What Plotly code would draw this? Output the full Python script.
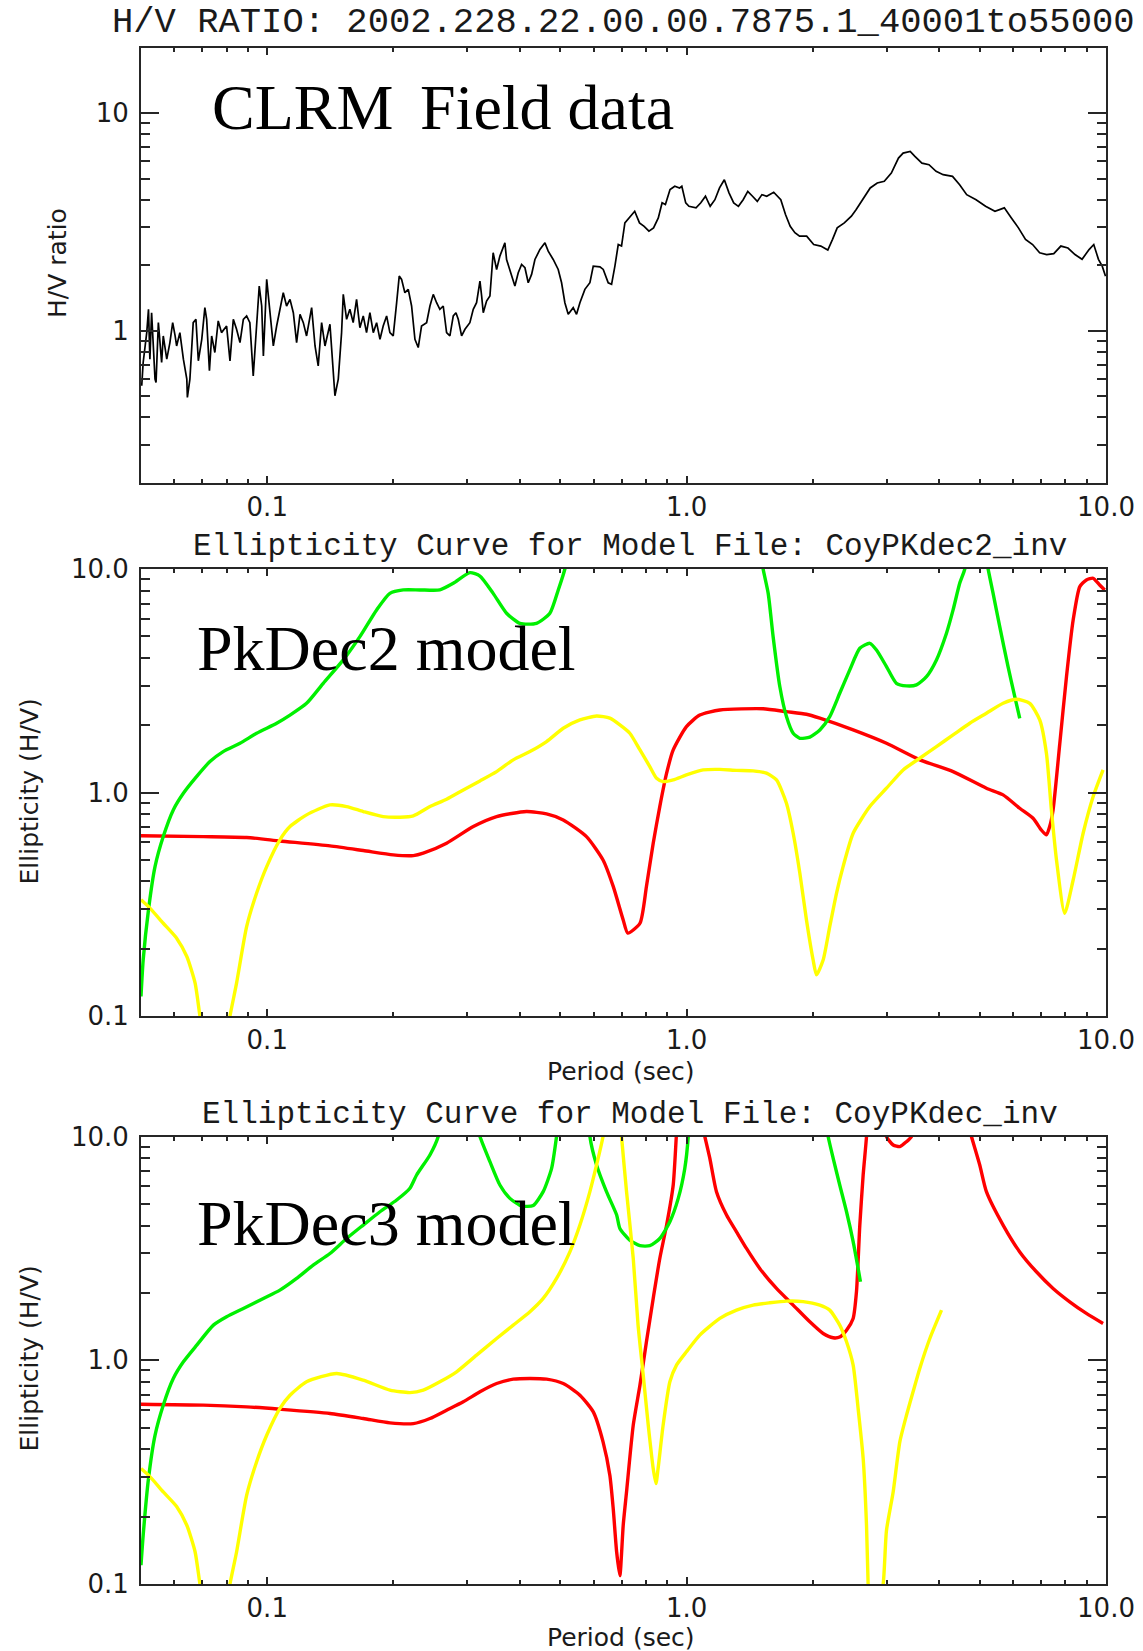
import math
import plotly.graph_objects as go

W, H = 1143, 1651

# ---------------- data ----------------
# Panel 1: field H/V ratio (period in s)
hv_period = [
    0.0502, 0.0506, 0.0516, 0.0521, 0.0525, 0.0530, 0.0540, 0.0543, 0.0550, 0.0560,
    0.0565, 0.0576, 0.0586, 0.0595, 0.0603, 0.0608, 0.0619, 0.0631, 0.0643, 0.0645,
    0.0654, 0.0666, 0.0676, 0.0685, 0.0698, 0.0710, 0.0717, 0.0728, 0.0737, 0.0750,
    0.0764, 0.0778, 0.0800, 0.0815, 0.0830, 0.0845, 0.0861, 0.0877, 0.0893, 0.0909,
    0.0926, 0.0943, 0.0957, 0.0970, 0.0979, 0.0997, 0.1015, 0.1034, 0.1053, 0.1092,
    0.1112, 0.1133, 0.1154, 0.1175, 0.1197, 0.1219, 0.1241, 0.1276, 0.1300, 0.1323,
    0.1348, 0.1373, 0.1411, 0.1437, 0.1450, 0.1477, 0.1504, 0.1518, 0.1546, 0.1574,
    0.1603, 0.1633, 0.1663, 0.1694, 0.1725, 0.1757, 0.1790, 0.1823, 0.1857, 0.1890,
    0.1926, 0.1961, 0.1997, 0.2035, 0.2064, 0.2091, 0.2129, 0.2169, 0.2209, 0.2250,
    0.2291, 0.2333, 0.2399, 0.2443, 0.2488, 0.2534, 0.2580, 0.2628, 0.2677, 0.2726,
    0.2777, 0.2818, 0.2854, 0.2907, 0.2961, 0.3042, 0.3099, 0.3156, 0.3215, 0.3245,
    0.3274, 0.3334, 0.3396, 0.3457, 0.3523, 0.3587, 0.3687, 0.3721, 0.3790, 0.3895,
    0.3967, 0.4041, 0.4116, 0.4191, 0.4269, 0.4348, 0.4469, 0.4594, 0.4677, 0.4807,
    0.4941, 0.5033, 0.5125, 0.5220, 0.5365, 0.5464, 0.5566, 0.5720, 0.5880, 0.5989,
    0.6213, 0.6327, 0.6502, 0.6623, 0.6745, 0.6870, 0.6995, 0.7125,
    0.752, 0.772, 0.792, 0.813, 0.834, 0.856, 0.874, 0.890, 0.913, 0.937,
    0.962, 0.974, 0.995, 1.013, 1.053, 1.081, 1.109, 1.138, 1.168, 1.198,
    1.230, 1.262, 1.295, 1.329, 1.364, 1.399, 1.436, 1.474, 1.512, 1.552,
    1.613, 1.677, 1.721, 1.766, 1.812, 1.859, 1.933, 2.009, 2.089, 2.171,
    2.228, 2.286, 2.377, 2.471, 2.535, 2.636, 2.740, 2.848, 2.960, 3.077,
    3.200, 3.283, 3.413, 3.502, 3.640, 3.784, 3.934, 4.090, 4.306, 4.477,
    4.654, 4.900, 5.162, 5.435, 5.722, 5.948, 6.183, 6.428, 6.683, 6.947,
    7.222, 7.508, 7.805, 8.114, 8.435, 8.768, 9.112, 9.350, 9.594, 9.795,
    9.975,
]
hv_ratio = [
    0.559, 0.715, 0.981, 1.255, 0.741, 1.211, 0.600, 0.579, 1.090, 0.715,
    0.947, 0.741, 0.883, 1.090, 0.947, 0.852, 0.981, 0.741, 0.600, 0.494,
    0.600, 1.090, 1.129, 0.728, 0.914, 1.277, 1.129, 0.655, 0.947, 0.795,
    1.110, 0.981, 1.052, 0.728, 1.129, 1.016, 0.883, 1.129, 1.170, 1.090,
    0.621, 1.052, 1.605, 1.300, 0.767, 1.722, 1.233, 0.852, 1.052, 1.496,
    1.300, 1.394, 1.211, 0.883, 1.190, 1.090, 0.947, 1.277, 0.852, 0.690,
    1.090, 0.852, 1.071, 0.600, 0.503, 0.600, 0.981, 1.470, 1.129, 1.255,
    1.090, 1.394, 1.034, 1.170, 0.981, 1.211, 0.981, 1.090, 0.914, 1.052,
    1.170, 0.981, 0.947, 1.346, 1.784, 1.722, 1.496, 1.550, 1.300, 0.914,
    0.838, 1.052, 1.090, 1.300, 1.470, 1.346, 1.255, 1.300, 0.981, 0.947,
    1.170, 1.211, 1.129, 0.947, 1.016, 1.090, 1.255, 1.346, 1.692, 1.445,
    1.211, 1.370, 1.445, 2.282, 1.913, 2.203, 2.535, 2.126, 1.913, 1.605,
    1.847, 2.017, 1.948, 1.662, 1.815, 2.126, 2.363, 2.535, 2.322, 2.126,
    1.913, 1.662, 1.346, 1.190, 1.277, 1.190, 1.346, 1.550, 1.662, 1.982,
    1.968, 1.913, 1.662, 1.634, 1.982, 2.49, 2.45, 3.13,
    3.54, 3.13, 3.02, 2.87, 2.97, 3.30, 3.87, 3.80, 4.45, 4.61,
    4.53, 4.61, 3.87, 3.73, 3.67, 3.87, 4.15, 3.73, 4.00, 4.53,
    4.94, 4.30, 3.87, 3.73, 4.00, 4.37, 4.15, 3.93, 4.22, 4.15,
    4.33, 4.00, 3.42, 3.02, 2.82, 2.72, 2.72, 2.49, 2.45, 2.35,
    2.63, 2.97, 3.13, 3.36, 3.60, 4.07, 4.53, 4.77, 4.86, 5.30,
    6.21, 6.55, 6.67, 6.32, 5.89, 5.79, 5.40, 5.21, 5.12, 4.69,
    4.22, 4.00, 3.73, 3.54, 3.67, 3.30, 2.97, 2.63, 2.49, 2.28,
    2.24, 2.26, 2.45, 2.40, 2.24, 2.13, 2.36, 2.49, 2.13, 1.98,
    1.78,
]

# Panel 2: PkDec2 model ellipticity (segments of each curve)
pk2_red_period = [[0.050, 0.0704, 0.0893, 0.1072, 0.1411, 0.1694, 0.1997, 0.2230, 0.2355, 0.2677,
                   0.310, 0.3523, 0.415, 0.4635, 0.5079, 0.577, 0.632, 0.6683, 0.706, 0.724,
                   0.774, 0.802, 0.8324, 0.863, 0.896, 0.929, 0.999, 1.075, 1.200, 1.522,
                   1.730, 1.931, 2.078, 2.495, 2.996, 3.597, 4.319, 5.186, 5.683, 6.228,
                   6.70, 7.01, 7.21, 7.34, 7.478, 7.76, 8.05, 8.35, 8.66, 8.979,
                   9.32, 9.66, 9.93]]
pk2_red_ell = [[0.640, 0.635, 0.629, 0.607, 0.577, 0.550, 0.526, 0.522, 0.535, 0.593,
                0.704, 0.780, 0.822, 0.802, 0.754, 0.635, 0.499, 0.380, 0.269, 0.235,
                0.260, 0.380, 0.593, 0.865, 1.22, 1.55, 1.97, 2.22, 2.34, 2.37,
                2.30, 2.24, 2.15, 1.905, 1.66, 1.40, 1.24, 1.045, 0.976, 0.850,
                0.767, 0.680, 0.646, 0.704, 0.836, 1.66, 3.30, 5.91, 8.34, 8.93,
                9.09, 8.48, 8.06]]

pk2_yellow_period = [
    [0.0500, 0.0525, 0.0565, 0.0608, 0.0643, 0.0673, 0.0691, 0.0705],
    [0.0800, 0.0815, 0.0845, 0.0893, 0.0943, 0.0997, 0.1072, 0.1133, 0.1241, 0.1411,
     0.1546, 0.1694, 0.1890, 0.2072, 0.2230, 0.2443, 0.2677, 0.2934, 0.3215, 0.3523,
     0.3860, 0.4230, 0.4635, 0.5079, 0.5566, 0.6099, 0.656, 0.6932, 0.732, 0.774,
     0.817, 0.848, 0.879, 0.929, 0.999, 1.095, 1.200, 1.315, 1.441, 1.550,
     1.638, 1.730, 1.795, 1.862, 1.931, 2.003, 2.040, 2.116, 2.194, 2.277,
     2.361, 2.495, 2.734, 2.996, 3.283, 3.597, 3.942, 4.319, 4.733, 5.186,
     5.683, 6.115, 6.58, 6.95, 7.21, 7.41, 7.62, 7.97, 8.35, 8.82,
     9.32, 9.84],
]
pk2_yellow_ell = [
    [0.331, 0.304, 0.260, 0.223, 0.1846, 0.1403, 0.100, 0.08],
    [0.08, 0.1, 0.1403, 0.251, 0.354, 0.466, 0.614, 0.704, 0.794, 0.880,
     0.865, 0.822, 0.780, 0.775, 0.786, 0.865, 0.933, 1.027, 1.127, 1.240,
     1.40, 1.524, 1.690, 1.939, 2.112, 2.20, 2.15, 2.006, 1.841, 1.55,
     1.306, 1.158, 1.119, 1.138, 1.198, 1.262, 1.269, 1.256, 1.25, 1.22,
     1.138, 0.895, 0.657, 0.435, 0.269, 0.178, 0.1528, 0.178, 0.251, 0.354,
     0.466, 0.657, 0.865, 1.045, 1.262, 1.423, 1.605, 1.810, 2.041, 2.262,
     2.507, 2.613, 2.507, 2.112, 1.498, 0.836, 0.499, 0.288, 0.406, 0.657,
     0.959, 1.262],
]

pk2_green_period = [
    [0.0500, 0.0506, 0.0521, 0.0540, 0.0565, 0.0597, 0.0631, 0.0679, 0.0730, 0.0785,
     0.0861, 0.0943, 0.1053, 0.1133, 0.1241, 0.1360, 0.1518, 0.1663, 0.1823, 0.1961,
     0.2110, 0.2312, 0.2580, 0.2777, 0.3042, 0.3215, 0.3457, 0.3721, 0.4003, 0.4386,
     0.4720, 0.4942, 0.5125, 0.525],
    [1.49, 1.522, 1.565, 1.608, 1.668, 1.730, 1.795, 1.862, 1.967, 2.078,
     2.194, 2.318, 2.449, 2.588, 2.734, 2.836, 2.996, 3.164, 3.344, 3.532,
     3.732, 3.942, 4.165, 4.319, 4.479, 4.605, 4.68],
    [5.10, 5.234, 5.38, 5.58, 5.84, 6.06, 6.228],
]
pk2_green_ell = [
    [0.1223, 0.178, 0.299, 0.466, 0.635, 0.836, 0.992, 1.18, 1.375, 1.524,
     1.66, 1.841, 2.041, 2.22, 2.507, 3.08, 3.92, 4.98, 6.56, 7.78,
     8.06, 8.06, 8.06, 8.63, 9.63, 9.30, 7.78, 6.34, 5.71, 5.71,
     6.34, 8.06, 10.0, 13.0],
    [13.0, 10.0, 7.78, 4.98, 2.98, 2.186, 1.841, 1.748, 1.77, 1.905,
     2.186, 2.78, 3.535, 4.42, 4.65, 4.34, 3.66, 3.08, 3.00, 3.03,
     3.30, 3.92, 5.16, 6.56, 8.63, 10.0, 13.0],
    [13.0, 10.0, 7.78, 5.52, 3.66, 2.685, 2.148],
]

# Panel 3: PkDec3 model ellipticity
pk3_red_period = [
    [0.0500, 0.0704, 0.0893, 0.1072, 0.1411, 0.1694, 0.1961, 0.2230, 0.2443, 0.2677,
     0.2934, 0.3215, 0.3523, 0.3860, 0.4230, 0.4635, 0.5079, 0.5566, 0.599, 0.632,
     0.656, 0.6683, 0.681, 0.693, 0.706, 0.719, 0.746, 0.774, 0.802, 0.8324,
     0.863, 0.896, 0.929, 0.945, 0.955],
    [1.06, 1.105, 1.136, 1.178, 1.245, 1.315, 1.389, 1.494, 1.638, 1.795,
     1.967, 2.116, 2.236, 2.318, 2.406, 2.495, 2.541, 2.588, 2.636, 2.685, 2.70],
    [2.98, 2.996, 3.108, 3.224, 3.344, 3.437, 3.46],
    [4.60, 4.777, 5.000, 5.186, 5.683, 6.228, 6.824, 7.478, 8.194, 8.979, 9.84],
]
pk3_red_ell = [
    [0.636, 0.630, 0.619, 0.604, 0.578, 0.549, 0.525, 0.521, 0.549, 0.598,
     0.652, 0.723, 0.787, 0.823, 0.829, 0.823, 0.787, 0.698, 0.588, 0.432,
     0.306, 0.217, 0.139, 0.109, 0.183, 0.258, 0.513, 0.774, 1.209, 1.889,
     2.85, 4.02, 6.07, 10.0, 13.0],
    [14.0, 10.0, 7.99, 5.67, 4.46, 3.75, 3.16, 2.573, 2.094, 1.764,
     1.485, 1.317, 1.26, 1.27, 1.363, 1.538, 2.023, 4.02, 6.73, 10.0, 13.0],
    [11.0, 10.0, 9.16, 9.01, 9.48, 10.0, 11.0],
    [13.0, 10.0, 7.46, 5.67, 4.02, 3.05, 2.486, 2.094, 1.825, 1.619, 1.460],
]

pk3_yellow_period = [
    [0.0500, 0.0525, 0.0565, 0.0608, 0.0643, 0.0673, 0.0691, 0.0705],
    [0.0800, 0.0815, 0.0845, 0.0893, 0.0943, 0.0997, 0.1072, 0.1133, 0.1241, 0.1464,
     0.1694, 0.1961, 0.2189, 0.2355, 0.2580, 0.2828, 0.3156, 0.3523, 0.3860, 0.4230,
     0.455, 0.4896, 0.5268, 0.5566, 0.588, 0.6099, 0.632, 0.645],
    [0.690, 0.6995, 0.719, 0.746, 0.766, 0.788, 0.810, 0.8324, 0.845, 0.855,
     0.879, 0.9121, 0.946, 0.999, 1.075, 1.200, 1.315, 1.441, 1.579, 1.730,
     1.896, 2.078, 2.194, 2.318, 2.406, 2.495, 2.564, 2.636, 2.685, 2.709, 2.73],
    [2.86, 2.942, 2.996, 3.108, 3.224, 3.344, 3.467, 3.597, 3.801, 4.053],
]
pk3_yellow_ell = [
    [0.328, 0.302, 0.258, 0.222, 0.183, 0.139, 0.100, 0.08],
    [0.08, 0.1, 0.139, 0.249, 0.351, 0.462, 0.609, 0.698, 0.801, 0.873,
     0.815, 0.735, 0.717, 0.735, 0.801, 0.888, 1.054, 1.251, 1.435, 1.647,
     1.889, 2.321, 3.05, 4.02, 5.67, 7.46, 10.0, 13.0],
    [14.0, 10.0, 5.67, 2.85, 1.435, 0.858, 0.513, 0.328, 0.281, 0.328,
     0.513, 0.801, 0.951, 1.091, 1.295, 1.538, 1.675, 1.764, 1.806, 1.838,
     1.829, 1.764, 1.675, 1.435, 1.209, 0.951, 0.609, 0.364, 0.183, 0.1, 0.08],
    [0.08, 0.1, 0.1735, 0.258, 0.432, 0.568, 0.723, 0.919, 1.251, 1.675],
]

pk3_green_period = [
    [0.0500, 0.0506, 0.0521, 0.0540, 0.0565, 0.0597, 0.0631, 0.0679, 0.0744, 0.0800,
     0.0877, 0.0979, 0.1072, 0.1175, 0.1287, 0.1411, 0.1546, 0.1694, 0.1857, 0.2035,
     0.2189, 0.2271, 0.2443, 0.2557, 0.262],
    [0.310, 0.3215, 0.3396, 0.3587, 0.3790, 0.4041, 0.4308, 0.455, 0.4765, 0.4896, 0.498],
    [0.585, 0.588, 0.6099, 0.644, 0.681, 0.6932, 0.732, 0.774, 0.817, 0.863,
     0.9121, 0.955, 0.990, 1.009, 1.015],
    [2.14, 2.175, 2.236, 2.318, 2.406, 2.495, 2.564, 2.597],
]
pk3_green_ell = [
    [0.1213, 0.165, 0.296, 0.462, 0.630, 0.829, 0.984, 1.168, 1.435, 1.564,
     1.704, 1.889, 2.058, 2.321, 2.663, 3.00, 3.50, 4.02, 4.61, 5.20,
     5.87, 6.73, 8.27, 10.0, 13.0],
    [13.0, 10.0, 7.72, 6.07, 5.29, 4.89, 4.92, 5.67, 7.20, 10.0, 13.0],
    [13.0, 10.0, 7.46, 5.67, 4.46, 3.88, 3.44, 3.25, 3.25, 3.50,
     4.16, 5.29, 7.20, 10.0, 13.0],
    [12.5, 10.0, 7.99, 6.07, 4.61, 3.39, 2.573, 2.243],
]

# Tick labels
x_tick_vals = [0.1, 1.0, 10.0]
x_tick_text = ["0.1", "1.0", "10.0"]
x_minor_vals = [0.06, 0.07, 0.08, 0.09, 0.2, 0.3, 0.4, 0.5, 0.6, 0.7, 0.8, 0.9,
                2, 3, 4, 5, 6, 7, 8, 9]
hv_tick_vals = [1, 10]
hv_tick_text = ["1", "10"]
hv_minor_vals = [0.3, 0.4, 0.5, 0.6, 0.7, 0.8, 0.9, 2, 3, 4, 5, 6, 7, 8, 9]
ell_tick_vals = [0.1, 1.0, 10.0]
ell_tick_text = ["0.1", "1.0", "10.0"]
ell_minor_vals = [0.2, 0.3, 0.4, 0.5, 0.6, 0.7, 0.8, 0.9, 2, 3, 4, 5, 6, 7, 8, 9]

# ---------------- layout helpers ----------------
def px(x):
    return x / W


def py(y):
    return 1 - y / H


AX = "#262626"
TXT = "#1a1a1a"
RED, GREEN, YELLOW = "#ff0000", "#00f000", "#ffff00"

X_DOM = [px(141), px(1106)]
DOM_TOP = [py(483), py(47.5)]
DOM_MID = [py(1016), py(569)]
DOM_BOT = [py(1584), py(1136.5)]

tick_font = dict(family="DejaVu Sans", size=26, color=TXT)


def xcfg(domain_anchor):
    return dict(
        type="log", range=[math.log10(0.05), 1.0], domain=X_DOM, anchor=domain_anchor,
        automargin=False,
        showline=True, linewidth=2, linecolor=AX, mirror="ticks",
        ticks="inside", ticklen=7, tickwidth=1.5, tickcolor=AX,
        tickmode="array", tickvals=x_tick_vals, ticktext=x_tick_text,
        tickfont=tick_font, ticklabelstandoff=0,
        showgrid=False, zeroline=False,
        minor=dict(tickmode="array", tickvals=x_minor_vals, ticks="inside",
                   ticklen=4, tickwidth=1.5, tickcolor=AX, showgrid=False),
    )


def ycfg(domain, anchor, rng, tv, tt, mv):
    return dict(
        type="log", range=rng, domain=domain, anchor=anchor,
        automargin=False,
        showline=True, linewidth=2, linecolor=AX, mirror="ticks",
        ticks="inside", ticklen=18, tickwidth=1.5, tickcolor=AX,
        tickmode="array", tickvals=tv, ticktext=tt,
        tickfont=tick_font, ticklabelstandoff=5,
        showgrid=False, zeroline=False,
        minor=dict(tickmode="array", tickvals=mv, ticks="inside",
                   ticklen=9, tickwidth=1.5, tickcolor=AX, showgrid=False),
    )


fig = go.Figure()

fig.add_trace(go.Scatter(x=hv_period, y=hv_ratio, mode="lines",
                         line=dict(color="#000000", width=1.7),
                         xaxis="x", yaxis="y", showlegend=False, hoverinfo="skip"))


def add_curve(periods, values, color, xa, ya):
    for p, v in zip(periods, values):
        fig.add_trace(go.Scatter(x=p, y=v, mode="lines",
                                 line=dict(color=color, width=3.4, shape="spline", smoothing=0.6),
                                 xaxis=xa, yaxis=ya, showlegend=False, hoverinfo="skip"))


add_curve(pk2_red_period, pk2_red_ell, RED, "x2", "y2")
add_curve(pk2_green_period, pk2_green_ell, GREEN, "x2", "y2")
add_curve(pk2_yellow_period, pk2_yellow_ell, YELLOW, "x2", "y2")
add_curve(pk3_red_period, pk3_red_ell, RED, "x3", "y3")
add_curve(pk3_green_period, pk3_green_ell, GREEN, "x3", "y3")
add_curve(pk3_yellow_period, pk3_yellow_ell, YELLOW, "x3", "y3")

ann = []
title_font = "Liberation Mono"
ann.append(dict(text="H/V RATIO: 2002.228.22.00.00.7875.1_40001to55000",
                x=px(623), y=py(23), font=dict(family=title_font, size=35.5, color=TXT)))
ann.append(dict(text="Ellipticity Curve for Model File: CoyPKdec2_inv",
                x=px(630), y=py(546), font=dict(family=title_font, size=31, color=TXT)))
ann.append(dict(text="Ellipticity Curve for Model File: CoyPKdec_inv",
                x=px(630), y=py(1114), font=dict(family=title_font, size=31, color=TXT)))
for yy in (1071, 1637):
    ann.append(dict(text="Period (sec)", x=px(621), y=py(yy),
                    font=dict(family="DejaVu Sans", size=25, color=TXT)))
ann.append(dict(text="H/V ratio", x=px(58), y=py(263), textangle=-90,
                font=dict(family="DejaVu Sans", size=25, color=TXT)))
for yy in (792, 1359):
    ann.append(dict(text="Ellipticity (H/V)", x=px(28.5), y=py(yy), textangle=-90,
                    font=dict(family="DejaVu Sans", size=25, color=TXT)))

big = dict(family="Liberation Serif", size=64, color="#000000")
ann.append(dict(text="CLRM", x=px(209.5), y=py(129.5 - 21.8),
                xanchor="left", font=big))
ann.append(dict(text="Field data", x=px(418), y=py(129.5 - 21.8),
                xanchor="left", font=big))
ann.append(dict(text="PkDec2 model", x=px(194.5), y=py(670.5 - 21.8),
                xanchor="left", font=big))
ann.append(dict(text="PkDec3 model", x=px(194.5), y=py(1245.5 - 21.8),
                xanchor="left", font=big))

for a in ann:
    a.setdefault("xanchor", "center")
    a["yanchor"] = "middle"
    a["xref"] = "paper"
    a["yref"] = "paper"
    a["showarrow"] = False

fig.update_layout(
    width=W, height=H, autosize=False,
    margin=dict(l=0, r=0, t=0, b=0, pad=0),
    paper_bgcolor="white", plot_bgcolor="white",
    showlegend=False,
    xaxis=xcfg("y"),
    xaxis2=xcfg("y2"),
    xaxis3=xcfg("y3"),
    yaxis=ycfg(DOM_TOP, "x", [math.log10(0.2), math.log10(20)], hv_tick_vals, hv_tick_text, hv_minor_vals),
    yaxis2=ycfg(DOM_MID, "x2", [-1, 1], ell_tick_vals, ell_tick_text, ell_minor_vals),
    yaxis3=ycfg(DOM_BOT, "x3", [-1, 1], ell_tick_vals, ell_tick_text, ell_minor_vals),
    annotations=ann,
)

fig.write_html("out.html")
